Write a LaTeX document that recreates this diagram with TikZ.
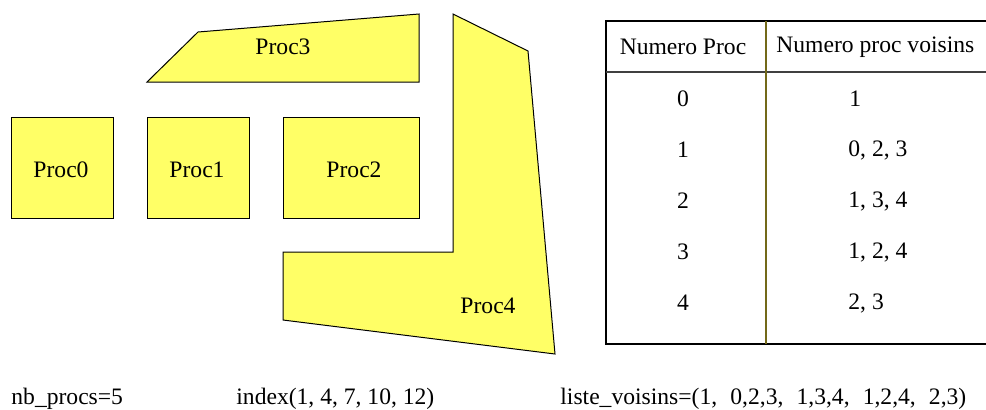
\documentclass[tikz,border=0pt]{standalone}
\usepackage{fontspec}
\setmainfont{Liberation Serif}
\usepackage{tikz}
\usetikzlibrary{positioning}
\usepackage{xcolor}
\definecolor{procyellow}{RGB}{255,255,102}
\definecolor{coldiv}{RGB}{115,105,25}

\tikzset{
  proc/.style = {draw=black, fill=procyellow, line width=0.5pt, line join=miter},
  lbl/.style = {inner sep=0pt, font=\fontsize{11.8pt}{14pt}\selectfont},
  tabline/.style = {draw=black!75, line width=0.6pt}
}
\newcommand{\gapv}{,\ \hspace{3.6pt}}

\begin{document}
\begin{tikzpicture}[x=0.5pt, y=-0.5pt]
\useasboundingbox (0,0) rectangle (986,409);

% domaines des procs
\draw[proc] (11,117) rectangle (113,218);
\node[lbl] (proc0) at (61,170){Proc0};

\draw[proc] (147,117) rectangle (249,218);
\node[lbl] (proc1) at (197,170){Proc1};

\draw[proc] (283,117) rectangle (419,218);
\node[lbl] (proc2) at (354,170){Proc2};

\draw[proc] (147,82)--(198,32)--(419,14)--(419,82)--cycle;
\node[lbl] (proc3) at (283,47){Proc3};

\draw[proc] (453,14)--(528,51)--(555,354)--(283,320)--(283,252)--(453,252)--cycle;
\node[lbl] (proc4) at (488,306){Proc4};

% tableau des voisins
\coordinate (tnw) at (606,21);
\coordinate (tsw) at (606,344);
\coordinate (tcn) at (766,21);
\coordinate (tcs) at (766,344);
\draw[black, line width=0.6pt] (986,21)--(tnw)--(tsw)--(986,344);
\draw[tabline] (606,72)--(986,72);
\draw[coldiv, line width=0.6pt] (tcn)--(tcs);

\node[lbl] (h_num) at (683,47){Numero Proc};
\node[lbl, anchor=west] (h_vois) at (776,47){Numero proc voisins};

\node[lbl] (n0) at (683,99){0};
\node[lbl, anchor=west] (v0) at (849,99){1};
\node[lbl] (n1) at (683,150){1};
\node[lbl, anchor=west] (v1) at (848,150){0, 2, 3};
\node[lbl] (n2) at (683,201){2};
\node[lbl, anchor=west] (v2) at (848,201){1, 3, 4};
\node[lbl] (n3) at (683,252){3};
\node[lbl, anchor=west] (v3) at (848,252){1, 2, 4};
\node[lbl] (n4) at (683,303){4};
\node[lbl, anchor=west] (v4) at (848,303){2, 3};

% structures de donnees
\node[lbl, anchor=base west] (nbprocs) at (11,404){nb\_procs=5};
\node[lbl, anchor=base west] (index) at (236,404){index(1, 4, 7, 10, 12)};
\node[lbl, anchor=base west] (liste) at (560,404){liste\_voisins=(1\gapv 0,2,3\gapv 1,3,4\gapv 1,2,4\gapv 2,3)};
\end{tikzpicture}
\end{document}
